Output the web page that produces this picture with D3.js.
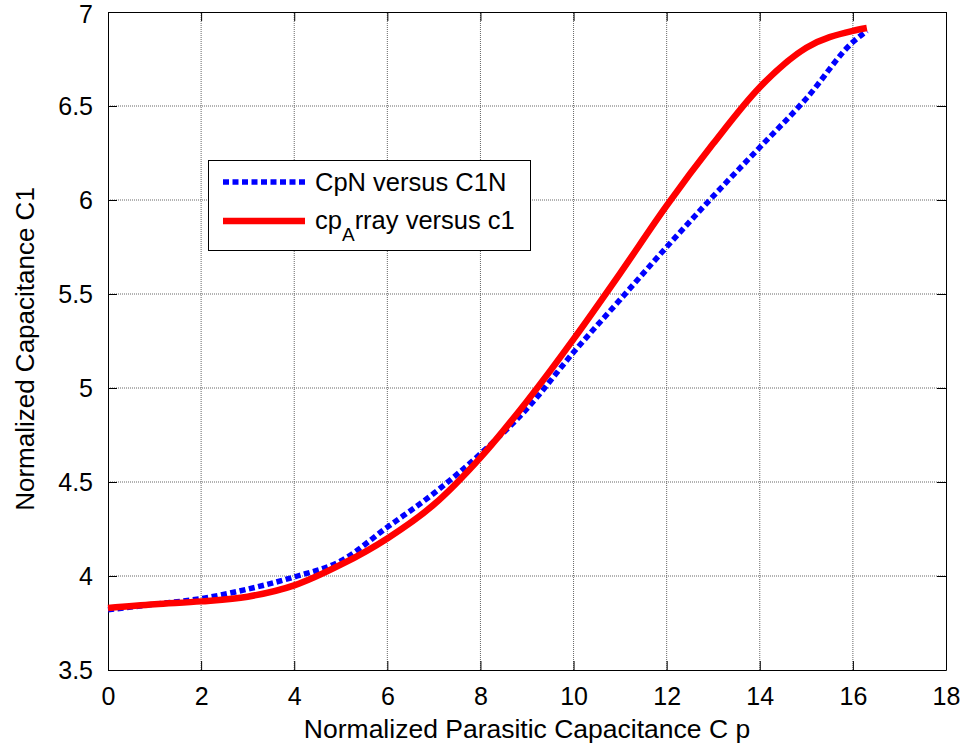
<!DOCTYPE html>
<html>
<head>
<meta charset="utf-8">
<script src="https://cdn.jsdelivr.net/npm/d3@7"></script>
<style>
  body { margin: 0; background: #fff; }
  text { font-family: "Liberation Sans", Arial, sans-serif; fill: #000; }
</style>
</head>
<body>
<div id="chart"></div>
<script>
// values
const cpN  = [0, 1, 2, 3, 4, 5, 6, 7, 8, 9, 10, 11, 12, 13, 14, 15, 16, 16.3];
const c1N  = [3.82, 3.85, 3.88, 3.93, 3.995, 4.08, 4.26, 4.44, 4.65, 4.89, 5.19, 5.47, 5.75, 6.02, 6.28, 6.54, 6.84, 6.9];
const cpArray = [0, 1, 2, 3, 4, 5, 6, 7, 8, 9, 10, 11, 12, 13, 14, 15, 16, 16.3];
const c1   = [3.83, 3.85, 3.865, 3.89, 3.95, 4.06, 4.2, 4.38, 4.63, 4.93, 5.26, 5.61, 5.97, 6.3, 6.6, 6.81, 6.9, 6.915];
const xTicks = [0, 2, 4, 6, 8, 10, 12, 14, 16, 18];
const yTicks = [3.5, 4, 4.5, 5, 5.5, 6, 6.5, 7];

const W = 968, H = 746;
const margin = { top: 12, right: 22, bottom: 76, left: 108 };

const svg = d3.select("#chart").append("svg")
    .attr("width", W)
    .attr("height", H);

const x = d3.scaleLinear().domain([0, 18]).range([margin.left, W - margin.right]);
const y = d3.scaleLinear().domain([3.5, 7]).range([H - margin.bottom, margin.top]);

// grid
svg.append("g").selectAll("line").data(xTicks.slice(1, -1)).enter().append("line")
    .attr("x1", d => x(d)).attr("x2", d => x(d))
    .attr("y1", y(3.5)).attr("y2", y(7))
    .attr("stroke", "#666").attr("stroke-dasharray", "1,1");
svg.append("g").selectAll("line").data(yTicks.slice(1, -1)).enter().append("line")
    .attr("y1", d => y(d)).attr("y2", d => y(d))
    .attr("x1", x(0)).attr("x2", x(18))
    .attr("stroke", "#666").attr("stroke-dasharray", "1,1");

// axes, ticks pointing inward
const tickLen = 9;
const fontTick = "25px";
const gx = svg.append("g").attr("transform", `translate(0,${y(3.5)})`)
    .call(d3.axisBottom(x).tickValues(xTicks).tickSize(-tickLen).tickPadding(tickLen + 8).tickSizeOuter(0));
const gy = svg.append("g").attr("transform", `translate(${x(0)},0)`)
    .call(d3.axisLeft(y).tickValues(yTicks).tickFormat(d3.format("")).tickSize(-tickLen).tickPadding(tickLen + 6).tickSizeOuter(0));
const gxt = svg.append("g").attr("transform", `translate(0,${y(7)})`)
    .call(d3.axisTop(x).tickValues(xTicks).tickSize(-tickLen).tickFormat("").tickSizeOuter(0));
const gyr = svg.append("g").attr("transform", `translate(${x(18)},0)`)
    .call(d3.axisRight(y).tickValues(yTicks).tickSize(-tickLen).tickFormat("").tickSizeOuter(0));
[gx, gy, gxt, gyr].forEach(g => {
    g.select(".domain").attr("stroke", "#000");
    g.selectAll(".tick line").attr("stroke", "#000");
    g.selectAll("text").style("font-size", fontTick).attr("font-family", null);
});
// keep the top label inside the page
gy.selectAll(".tick").filter(d => d === 7).select("text").attr("dy", "0.4em");

// series
const line = d3.line().x(d => x(d[0])).y(d => y(d[1])).curve(d3.curveMonotoneX);
svg.append("path")
    .datum(d3.zip(cpN, c1N))
    .attr("d", line)
    .attr("fill", "none")
    .attr("stroke", "#0000ff")
    .attr("stroke-width", 5.5)
    .attr("stroke-dasharray", "6,3.5");
svg.append("path")
    .datum(d3.zip(cpArray, c1))
    .attr("d", line)
    .attr("fill", "none")
    .attr("stroke", "#ff0000")
    .attr("stroke-width", 6.5);

// axis labels
svg.append("text")
    .attr("x", (x(0) + x(18)) / 2).attr("y", 738)
    .attr("text-anchor", "middle")
    .style("font-size", "26.5px")
    .text("Normalized Parasitic Capacitance C p");
svg.append("text")
    .attr("transform", `translate(34,349) rotate(-90)`)
    .attr("text-anchor", "middle")
    .style("font-size", "26px")
    .text("Normalized Capacitance C1");

// legend
const lg = svg.append("g");
lg.append("rect")
    .attr("x", 208.5).attr("y", 160.5).attr("width", 322).attr("height", 90)
    .attr("fill", "#fff").attr("stroke", "#000");
lg.append("line")
    .attr("x1", 223).attr("x2", 305).attr("y1", 182).attr("y2", 182)
    .attr("stroke", "#0000ff").attr("stroke-width", 5.5).attr("stroke-dasharray", "6,3.5");
lg.append("line")
    .attr("x1", 223).attr("x2", 305).attr("y1", 221).attr("y2", 221)
    .attr("stroke", "#ff0000").attr("stroke-width", 6.5);
lg.append("text")
    .attr("x", 315).attr("y", 191)
    .style("font-size", "25.5px")
    .text("CpN versus C1N");
const t2 = lg.append("text")
    .attr("x", 315).attr("y", 229)
    .style("font-size", "25.5px");
t2.append("tspan").text("cp");
t2.append("tspan").attr("dy", 12).style("font-size", "19px").text("A");
t2.append("tspan").attr("dy", -12).text("rray versus c1");
</script>
</body>
</html>
